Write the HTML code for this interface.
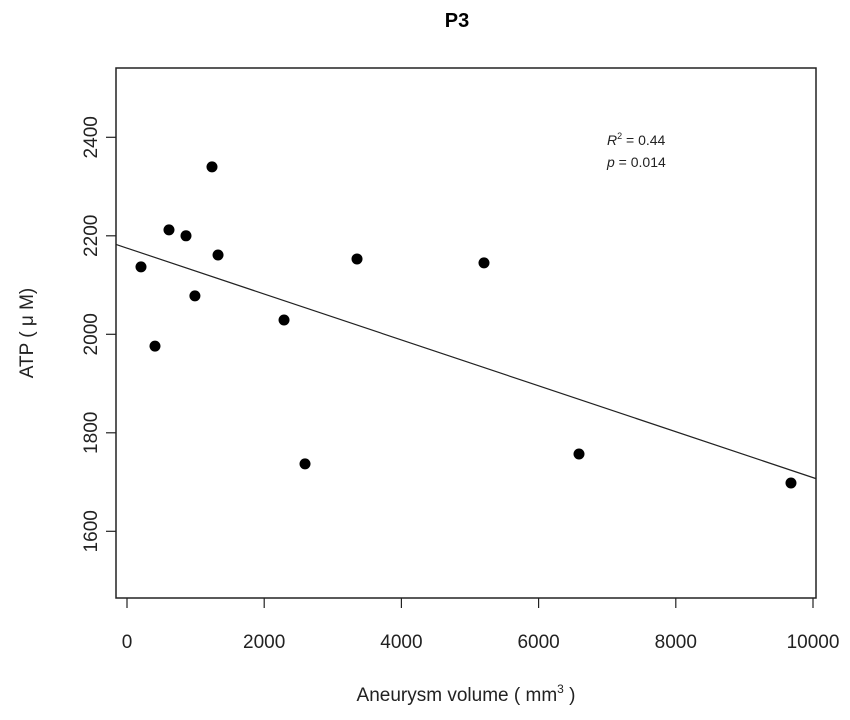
<!DOCTYPE html>
<html><head><meta charset="utf-8"><style>
body{margin:0;background:#fff}
svg{display:block;font-family:"Liberation Sans",sans-serif}
</style></head><body>
<svg id="chart" width="850" height="720">
<text x="457" y="27" text-anchor="middle" font-size="20" font-weight="bold">P3</text>
<rect x="116" y="68" width="700" height="530" fill="none" stroke="#222" stroke-width="1.5"/>
<g id="axes"></g>
<g id="marks"></g>
<text x="466" y="701" text-anchor="middle" font-size="19" fill="#222">Aneurysm volume ( mm<tspan dy="-8" font-size="12">3</tspan><tspan dy="8"> )</tspan></text>
<text transform="translate(33,333) rotate(-90)" text-anchor="middle" font-size="19" fill="#222">ATP ( μ M)</text>
<text x="607" y="145" font-size="14" fill="#222"><tspan font-style="italic">R</tspan><tspan dy="-6" font-size="9">2</tspan><tspan dy="6"> = 0.44</tspan></text>
<text x="607" y="167" font-size="14" fill="#222"><tspan font-style="italic">p</tspan> = 0.014</text>
</svg>
<script>
const xVals=[204,408,612,860,990,1239,1327,2289,2595,3353,5204,6589,9679];
const yVals=[2137,1976,2212,2200,2078,2340,2161,2029,1737,2153,2145,1757,1698];
const xTicks=[0,2000,4000,6000,8000,10000];
const yTicks=[1600,1800,2000,2200,2400];
const fitIntercept=2175, fitSlope=-0.0466;
const ns="http://www.w3.org/2000/svg";
const sx=v=>127+v*0.0686;
const sy=v=>334.3-(v-2000)*0.4925;
const axes=document.getElementById('axes'),marks=document.getElementById('marks');
function mk(tag,attrs,parent){const e=document.createElementNS(ns,tag);for(const k in attrs)e.setAttribute(k,attrs[k]);parent.appendChild(e);return e;}
xTicks.forEach(t=>{
 const l=mk('line',{x1:sx(t),x2:sx(t),y1:598,y2:608,stroke:'#222','stroke-width':1.2},axes);
 
 
 const tx=mk('text',{x:sx(t),y:648,'text-anchor':'middle','font-size':19,fill:'#222'},axes);
 tx.textContent=t;
 
 
});
yTicks.forEach(t=>{
 const l=mk('line',{x1:106,x2:116,y1:sy(t),y2:sy(t),stroke:'#222','stroke-width':1.2},axes);
 
 
 const tx=mk('text',{transform:`translate(97,${sy(t)}) rotate(-90)`,'text-anchor':'middle','font-size':19,fill:'#222'},axes);
 tx.textContent=t;
 
 
});
const x0=-160,x1=10044;
const fit=mk('line',{x1:sx(x0),y1:sy(fitIntercept+fitSlope*x0),x2:sx(x1),y2:sy(fitIntercept+fitSlope*x1),stroke:'#222','stroke-width':1.2},marks);


xVals.forEach((x,i)=>{
 const c=mk('circle',{cx:sx(x),cy:sy(yVals[i]),r:5.5,fill:'#000'},marks);
 
 
});
</script>
</body></html>
